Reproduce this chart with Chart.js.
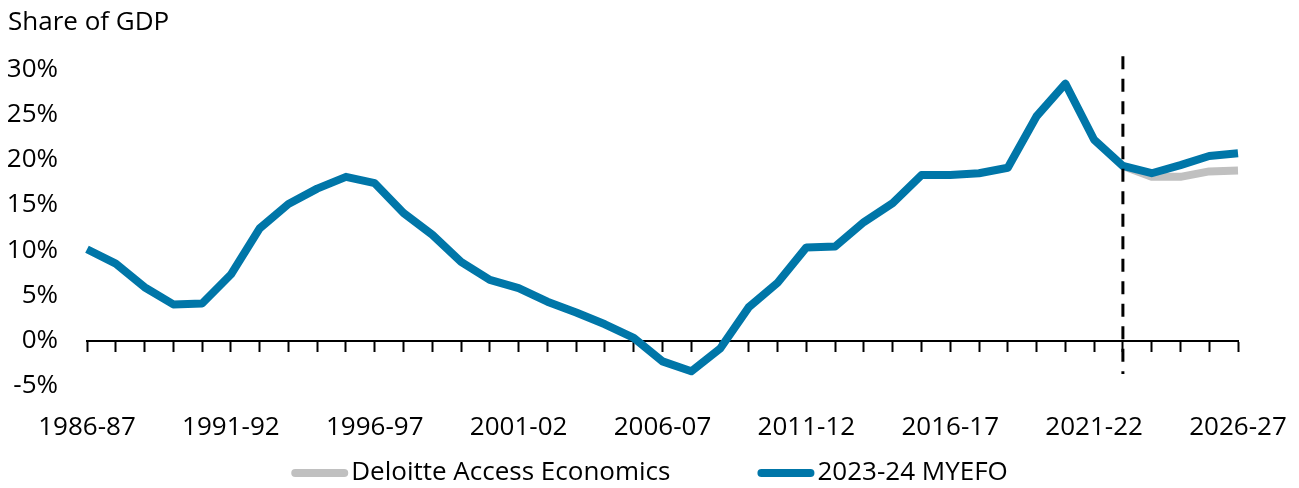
<!DOCTYPE html>
<html>
<head>
<meta charset="utf-8">
<script src="https://cdn.jsdelivr.net/npm/chart.js@4"></script>
<style>
  html, body { margin: 0; padding: 0; background: #fff; }
  #wrap { width: 1299px; height: 488px; }
</style>
</head>
<body>
<div id="wrap"><canvas id="chart"></canvas></div>
<script>
const years = [
  '1986-87', '1987-88', '1988-89', '1989-90', '1990-91', '1991-92', '1992-93', '1993-94',
  '1994-95', '1995-96', '1996-97', '1997-98', '1998-99', '1999-00', '2000-01', '2001-02',
  '2002-03', '2003-04', '2004-05', '2005-06', '2006-07', '2007-08', '2008-09', '2009-10',
  '2010-11', '2011-12', '2012-13', '2013-14', '2014-15', '2015-16', '2016-17', '2017-18',
  '2018-19', '2019-20', '2020-21', '2021-22', '2022-23', '2023-24', '2024-25', '2025-26',
  '2026-27'
];

const myefo = [
  10.1, 8.5, 5.9, 4.0, 4.1, 7.3, 12.4, 15.1,
  16.8, 18.1, 17.4, 14.1, 11.7, 8.7, 6.7, 5.8,
  4.3, 3.1, 1.8, 0.3, -2.3, -3.4, -0.9, 3.7,
  6.4, 10.3, 10.4, 13.1, 15.2, 18.3, 18.3, 18.5,
  19.1, 24.8, 28.4, 22.2, 19.3, 18.5, 19.4, 20.4,
  20.7
];

// Deloitte projections only run from the last actual year onwards
const deloitte = [
  null, null, null, null, null, null, null, null,
  null, null, null, null, null, null, null, null,
  null, null, null, null, null, null, null, null,
  null, null, null, null, null, null, null, null,
  null, null, null, null, 19.3, 18.1, 18.1, 18.7,
  18.8
];

const yTicks = [-5, 0, 5, 10, 15, 20, 25, 30];
const forecastStart = '2022-23';

const FONT = 'Open Sans';
const FONT_SIZE = 26;
const BLUE = '#0076a8';
const GREY = '#c0c0c0';

// dashed divider between actuals and forecasts
const dividerLine = {
  id: 'dividerLine',
  afterDatasetsDraw(chart) {
    const { ctx, chartArea, scales } = chart;
    const x = scales.x.getPixelForValue(years.indexOf(forecastStart));
    ctx.save();
    ctx.strokeStyle = '#000';
    ctx.lineWidth = 3;
    ctx.setLineDash([13, 9.5]);
    ctx.beginPath();
    ctx.moveTo(x, chartArea.top - 13);
    ctx.lineTo(x, scales.y.getPixelForValue(-3.7));
    ctx.stroke();
    ctx.restore();
  }
};

// legend drawn by hand so the text sits right against the swatch
const lineLegend = {
  id: 'lineLegend',
  afterDraw(chart) {
    const { ctx } = chart;
    const items = chart.data.datasets.map(ds => ({ text: ds.label, color: ds.borderColor }));
    const swatch = 57, gapText = 3, gapItem = 87;
    ctx.save();
    ctx.font = FONT_SIZE + 'px "' + FONT + '"';
    const widths = items.map(it => swatch + gapText + ctx.measureText(it.text).width);
    const total = widths.reduce((a, b) => a + b, 0) + gapItem * (items.length - 1);
    let x = (chart.width - total) / 2;
    const y = chart.height - 15;
    items.forEach((it, i) => {
      ctx.strokeStyle = it.color;
      ctx.lineWidth = 8;
      ctx.lineCap = 'round';
      ctx.beginPath();
      ctx.moveTo(x + 4, y);
      ctx.lineTo(x + swatch - 4, y);
      ctx.stroke();
      ctx.fillStyle = '#000';
      ctx.textBaseline = 'middle';
      ctx.fillText(it.text, x + swatch + gapText, y);
      x += widths[i] + gapItem;
    });
    ctx.restore();
  }
};

new Chart(document.getElementById('chart'), {
  type: 'line',
  data: {
    labels: years,
    datasets: [
      {
        label: 'Deloitte Access Economics',
        data: deloitte,
        borderColor: GREY,
        borderWidth: 8,
        pointRadius: 0,
        tension: 0,
        borderJoinStyle: 'round',
        order: 1
      },
      {
        label: '2023-24 MYEFO',
        data: myefo,
        borderColor: BLUE,
        borderWidth: 8,
        pointRadius: 0,
        tension: 0,
        borderJoinStyle: 'round',
        order: 0
      }
    ]
  },
  options: {
    responsive: true,
    maintainAspectRatio: false,
    animation: false,
    layout: { padding: { left: 8, right: 10, top: 0, bottom: 19 } },
    font: { family: FONT },
    plugins: {
      legend: { display: false },
      tooltip: { enabled: false },
      title: {
        display: true,
        text: 'Share of GDP',
        align: 'start',
        color: '#000',
        font: { family: FONT, size: FONT_SIZE, weight: 'normal' },
        padding: { top: 7, bottom: 31 }
      }
    },
    scales: {
      x: {
        offset: false,
        grid: { display: false, drawTicks: false },
        border: { display: false },
        ticks: {
          autoSkip: false,
          maxRotation: 0,
          padding: 26,
          color: '#000',
          font: { family: FONT, size: FONT_SIZE },
          callback: (v, i) => (i % 5 === 0 ? years[i] : null)
        },
        // keep the plot running close to the right edge
        afterFit: axis => { axis.paddingRight = 61; }
      },
      // zero line with a tick mark for every year
      xZero: {
        type: 'category',
        labels: years,
        offset: false,
        position: { y: 0 },
        grid: { drawOnChartArea: false, drawTicks: true, tickLength: 10, tickWidth: 2, tickColor: '#000' },
        border: { display: true, color: '#000', width: 2 },
        ticks: { display: false },
        afterFit: axis => {
          axis.height = 0;
          axis.paddingLeft = 0;
          axis.paddingRight = 0;
        }
      },
      y: {
        min: -5,
        max: 30,
        afterBuildTicks: axis => { axis.ticks = yTicks.map(v => ({ value: v })); },
        afterFit: axis => { axis.width = 79; },
        grid: { display: false, drawTicks: false },
        border: { display: false },
        ticks: {
          padding: 29,
          color: '#000',
          font: { family: FONT, size: FONT_SIZE },
          callback: v => v + '%'
        }
      }
    }
  },
  plugins: [dividerLine, lineLegend]
});
</script>
</body>
</html>
